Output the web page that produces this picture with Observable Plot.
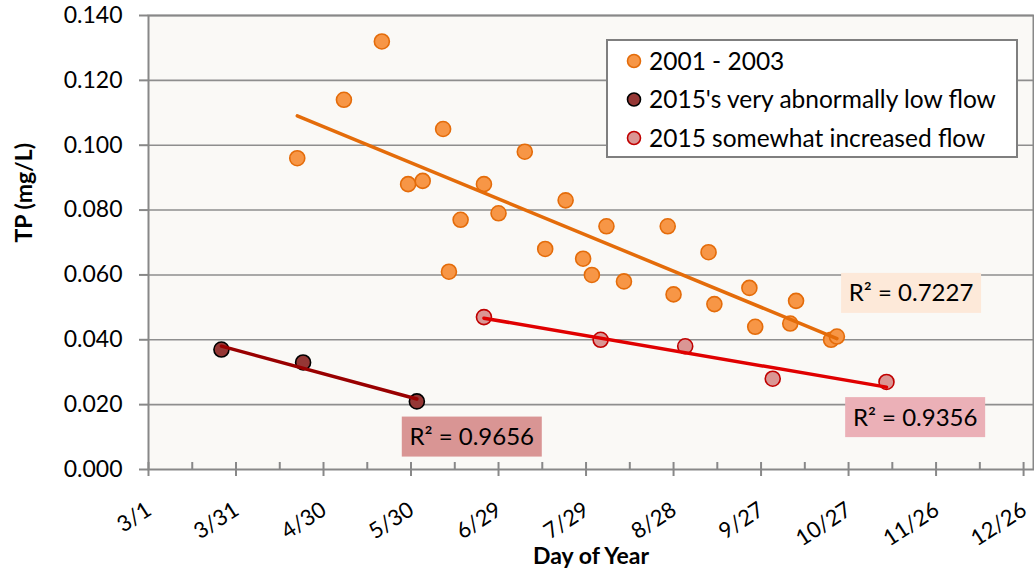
<!DOCTYPE html>
<html>
<head>
<meta charset="utf-8">
<script src="https://cdn.jsdelivr.net/npm/d3@7"></script>
<script src="https://cdn.jsdelivr.net/npm/@observablehq/plot@0.6"></script>
<style>
  html, body { margin: 0; padding: 0; background: #ffffff; }
  #chart { width: 1034px; height: 577px; }
</style>
</head>
<body>
<div id="chart"></div>
<script>
// Total phosphorus by sampling day. Days are day-of-year in a non-leap year (3/1 = day 60).
const seriesNames = ["2001 - 2003", "2015's very abnormally low flow", "2015 somewhat increased flow"];

const day2001 = [111, 127, 140, 149, 154, 161, 163, 167, 175, 180, 189, 196, 203, 209, 212, 217, 223, 238, 240, 252, 254, 266, 268, 280, 282, 294, 296];
const tp2001  = [0.096, 0.114, 0.132, 0.088, 0.089, 0.105, 0.061, 0.077, 0.088, 0.079, 0.098, 0.068, 0.083, 0.065, 0.060, 0.075, 0.058, 0.075, 0.054, 0.067, 0.051, 0.056, 0.044, 0.045, 0.052, 0.040, 0.041];

const dayLow = [85, 113, 152];
const tpLow  = [0.037, 0.033, 0.021];

const dayInc = [175, 215, 244, 274, 313];
const tpInc  = [0.047, 0.040, 0.038, 0.028, 0.027];

const rSquared = ["0.7227", "0.9656", "0.9356"];

const xTickDays   = [60, 90, 120, 150, 180, 210, 240, 270, 300, 330, 360];
const xTickLabels = ["3/1", "3/31", "4/30", "5/30", "6/29", "7/29", "8/28", "9/27", "10/27", "11/26", "12/26"];
const xMinorDays  = [75, 105, 135, 165, 195, 225, 255, 285, 315, 345];
const yTicks      = [0, 0.02, 0.04, 0.06, 0.08, 0.10, 0.12, 0.14];

// Where each R² box is centred, in (day, TP) units
const rLabelAt = [[321.6, 0.0543], [171, 0.0100], [323, 0.0160]];

const styles = [
  { fill: "#F79646", stroke: "#E46C0A", line: "#E46C0A", box: "#FDE9D9" },
  { fill: "#953735", stroke: "#000000", line: "#990000", box: "#D99594" },
  { fill: "#DA9694", stroke: "#C00000", line: "#E00000", box: "#EBB0B7" }
];

const FONT = "Lato, 'Open Sans', sans-serif";
const rows = (days, tps, s) => days.map((d, i) => ({ day: d, tp: tps[i], series: s }));
const groups = [rows(day2001, tp2001, 0), rows(dayLow, tpLow, 1), rows(dayInc, tpInc, 2)];

const seriesMarks = [];
groups.forEach((data, s) => {
  seriesMarks.push(Plot.dot(data, {
    x: "day", y: "tp", r: 7.5, fill: styles[s].fill, stroke: styles[s].stroke, strokeWidth: 1.6
  }));
});
groups.forEach((data, s) => {
  seriesMarks.push(Plot.linearRegressionY(data, {
    x: "day", y: "tp", stroke: styles[s].line, strokeWidth: 3.5, ci: 0
  }));
});

const plot = Plot.plot({
  width: 1034,
  height: 577,
  marginLeft: 148,
  marginRight: 1,
  marginTop: 15,
  marginBottom: 108,
  style: { fontFamily: FONT, background: "#ffffff", color: "#000000" },
  x: { domain: [60, 363.4] },
  y: { domain: [0, 0.14] },
  marks: [
    Plot.frame({ fill: "#FAF9F6" }),
    Plot.ruleY(yTicks.slice(1), { stroke: "#8E8E8E", strokeWidth: 1.6 }),
    Plot.frame({ stroke: "#888888", strokeWidth: 2 }),
    Plot.axisY({
      ticks: yTicks, tickSize: 9, tickPadding: 17, tickFormat: d3.format(".3f"),
      stroke: "#888888", strokeWidth: 2, fill: "#000000", fontSize: 23, label: null
    }),
    Plot.axisX({
      ticks: xMinorDays, tickSize: 7, dy: -7, tickFormat: () => "",
      stroke: "#888888", strokeWidth: 2, label: null
    }),
    Plot.axisX({
      ticks: xTickDays, tickSize: 7, dy: -7, tickFormat: () => "",
      stroke: "#888888", strokeWidth: 2, label: null
    }),
    Plot.axisX({
      ticks: xTickDays, tickSize: 7, tickFormat: () => "",
      stroke: "#888888", strokeWidth: 2, label: null
    }),
    Plot.text(xTickDays, {
      x: d => d, text: (d, i) => xTickLabels[i], frameAnchor: "bottom", dy: 31, dx: -4,
      rotate: -33, textAnchor: "end", lineAnchor: "top", fontSize: 22, fill: "#000000"
    }),
    ...seriesMarks,
    Plot.text(["TP (mg/L)"], {
      frameAnchor: "left", dx: -124, rotate: -90, text: d => d,
      fontSize: 23, fontWeight: "bold", fill: "#000000"
    }),
    Plot.text(["Day of Year"], {
      frameAnchor: "bottom", dy: 94, text: d => d,
      fontSize: 23, fontWeight: "bold", fill: "#000000"
    })
  ]
});

document.getElementById("chart").appendChild(plot);

// R² boxes placed through the chart's own scales
const sx = plot.scale("x"), sy = plot.scale("y");
const svg = d3.select(plot);
const ann = svg.append("g").attr("font-family", FONT).attr("font-size", 24);
rLabelAt.forEach(([d, v], s) => {
  const cx = sx.apply(d), cy = sy.apply(v);
  ann.append("rect")
    .attr("x", cx - 70).attr("y", cy - 20).attr("width", 140).attr("height", 40)
    .attr("fill", styles[s].box);
  ann.append("text")
    .attr("x", cx).attr("y", cy).attr("text-anchor", "middle").attr("dy", "0.35em")
    .attr("fill", "#000000").text("R² = " + rSquared[s]);
});

// Legend box in the upper right of the plotting area
const lg = svg.append("g").attr("font-family", FONT).attr("font-size", 24.5).attr("text-anchor", "start");
lg.append("rect")
  .attr("x", 607).attr("y", 40).attr("width", 410).attr("height", 117)
  .attr("fill", "#ffffff").attr("stroke", "#7F7F7F").attr("stroke-width", 2);
seriesNames.forEach((name, s) => {
  const cy = 61 + s * 38.5;
  lg.append("circle").attr("cx", 634).attr("cy", cy).attr("r", 6.5)
    .attr("fill", styles[s].fill).attr("stroke", styles[s].stroke).attr("stroke-width", 1.6);
  lg.append("text").attr("x", 649).attr("y", cy).attr("dy", "0.35em")
    .attr("text-anchor", "start").attr("fill", "#000000").text(name);
});
</script>
</body>
</html>
